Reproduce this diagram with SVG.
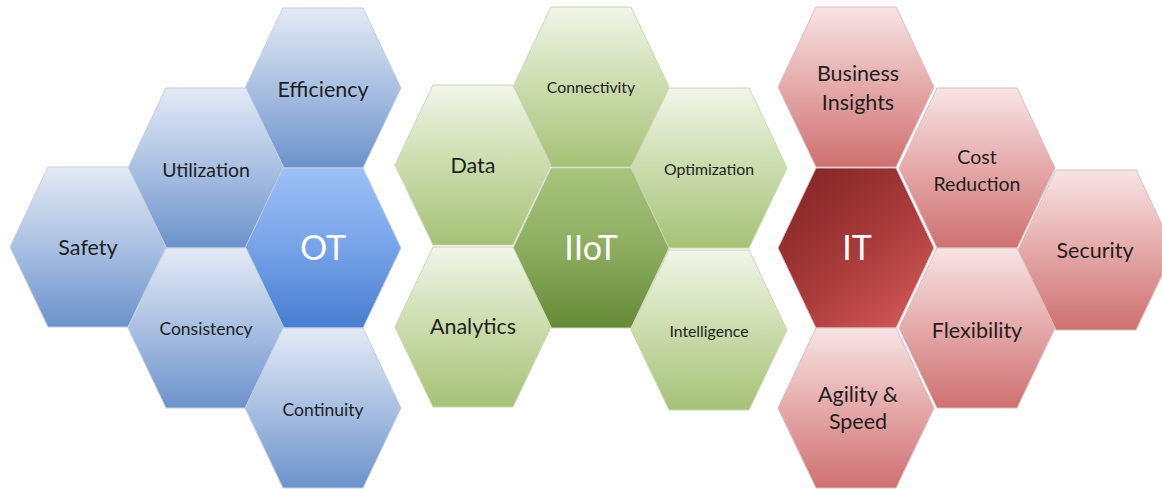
<svg xmlns="http://www.w3.org/2000/svg" xmlns:xlink="http://www.w3.org/1999/xlink" width="1162" height="489" viewBox="0 0 1162 489">
<style>
  .hex { stroke-width: 1; }
  .b { stroke: #c3cede; }
  .g { stroke: #cbd6b6; }
  .r { stroke: #dcbcbc; }
  text { font-family: Lato, "Liberation Sans", sans-serif; text-anchor: middle; fill: #1e1e1e; }
  .l { font-size: 21.5px; }
  .m { font-size: 19.5px; }
  .s { font-size: 17.5px; }
  .xs { font-size: 15.8px; }
  .c { font-size: 34px; fill: #ffffff; }
</style>
<defs>
  <polygon id="hex" points="-40,-80 40,-80 78,0 40,80 -40,80 -78,0"/>
  <linearGradient id="gB" x1="0" y1="0" x2="0" y2="1">
    <stop offset="0" stop-color="#e3eaf5"/>
    <stop offset="0.5" stop-color="#a9c0e2"/>
    <stop offset="1" stop-color="#6c92cb"/>
  </linearGradient>
  <linearGradient id="gBc" x1="0" y1="0" x2="0" y2="1">
    <stop offset="0" stop-color="#9cc0f7"/>
    <stop offset="0.5" stop-color="#76a3e8"/>
    <stop offset="1" stop-color="#477dd0"/>
  </linearGradient>
  <linearGradient id="gG" x1="0" y1="0" x2="0" y2="1">
    <stop offset="0" stop-color="#f1f5e8"/>
    <stop offset="0.5" stop-color="#cbdcac"/>
    <stop offset="1" stop-color="#a5c276"/>
  </linearGradient>
  <linearGradient id="gGc" x1="0" y1="0" x2="0" y2="1">
    <stop offset="0" stop-color="#a8c47e"/>
    <stop offset="0.5" stop-color="#8cad5f"/>
    <stop offset="1" stop-color="#668a38"/>
  </linearGradient>
  <linearGradient id="gR" x1="0" y1="0" x2="0" y2="1">
    <stop offset="0" stop-color="#f8e4e4"/>
    <stop offset="0.5" stop-color="#e5a9a9"/>
    <stop offset="1" stop-color="#cf7070"/>
  </linearGradient>
  <linearGradient id="gRc" x1="0.15" y1="0.1" x2="0.85" y2="0.95">
    <stop offset="0" stop-color="#882828"/>
    <stop offset="0.5" stop-color="#a83a3a"/>
    <stop offset="1" stop-color="#cf5656"/>
  </linearGradient>
</defs>

<!-- OT cluster -->
<g id="node-efficiency">
  <use xlink:href="#hex" x="323" y="88" class="hex b" fill="url(#gB)"/>
  <text class="l" x="323" y="97">Efficiency</text>
</g>
<g id="node-utilization">
  <use xlink:href="#hex" x="206" y="168" class="hex b" fill="url(#gB)"/>
  <text class="m" x="206" y="177">Utilization</text>
</g>
<g id="node-safety">
  <use xlink:href="#hex" x="88" y="247" class="hex b" fill="url(#gB)"/>
  <text class="l" x="88" y="255">Safety</text>
</g>
<g id="node-ot">
  <use xlink:href="#hex" x="323" y="248" class="hex b" fill="url(#gBc)"/>
  <text class="c" x="323" y="260">OT</text>
</g>
<g id="node-consistency">
  <use xlink:href="#hex" x="206" y="328" class="hex b" fill="url(#gB)"/>
  <text class="s" x="206" y="335">Consistency</text>
</g>
<g id="node-continuity">
  <use xlink:href="#hex" x="323" y="408" class="hex b" fill="url(#gB)"/>
  <text class="s" x="323" y="416">Continuity</text>
</g>

<!-- IIoT cluster -->
<g id="node-connectivity">
  <use xlink:href="#hex" x="591" y="87" class="hex g" fill="url(#gG)"/>
  <text class="xs" x="591" y="93">Connectivity</text>
</g>
<g id="node-data">
  <use xlink:href="#hex" x="473" y="165" class="hex g" fill="url(#gG)"/>
  <text class="l" x="473" y="173">Data</text>
</g>
<g id="node-optimization">
  <use xlink:href="#hex" x="709" y="168" class="hex g" fill="url(#gG)"/>
  <text class="xs" x="709" y="175">Optimization</text>
</g>
<g id="node-iiot">
  <use xlink:href="#hex" x="591" y="248" class="hex g" fill="url(#gGc)"/>
  <text class="c" x="591" y="260">IIoT</text>
</g>
<g id="node-analytics">
  <use xlink:href="#hex" x="473" y="327" class="hex g" fill="url(#gG)"/>
  <text class="l" x="473" y="334">Analytics</text>
</g>
<g id="node-intelligence">
  <use xlink:href="#hex" x="709" y="330" class="hex g" fill="url(#gG)"/>
  <text class="xs" x="709" y="337">Intelligence</text>
</g>

<!-- IT cluster -->
<g id="node-business-insights">
  <use xlink:href="#hex" x="856" y="87" class="hex r" fill="url(#gR)"/>
  <text class="l" x="858" y="81">Business</text>
  <text class="l" x="858" y="110">Insights</text>
</g>
<g id="node-it">
  <use xlink:href="#hex" x="856" y="248" class="hex r" fill="url(#gRc)"/>
  <text class="c" x="857" y="260">IT</text>
</g>
<g id="node-cost-reduction">
  <use xlink:href="#hex" x="977" y="168" class="hex r" fill="url(#gR)"/>
  <text class="m" x="977" y="164">Cost</text>
  <text class="m" x="977" y="191">Reduction</text>
</g>
<g id="node-security">
  <use xlink:href="#hex" x="1096" y="250" class="hex r" fill="url(#gR)"/>
  <text class="l" x="1095" y="258">Security</text>
</g>
<g id="node-flexibility">
  <use xlink:href="#hex" x="977" y="328" class="hex r" fill="url(#gR)"/>
  <text class="l" x="977" y="338">Flexibility</text>
</g>
<g id="node-agility-speed">
  <use xlink:href="#hex" x="856" y="408" class="hex r" fill="url(#gR)"/>
  <text class="l" x="858" y="402">Agility &amp;</text>
  <text class="l" x="858" y="429">Speed</text>
</g>
</svg>
